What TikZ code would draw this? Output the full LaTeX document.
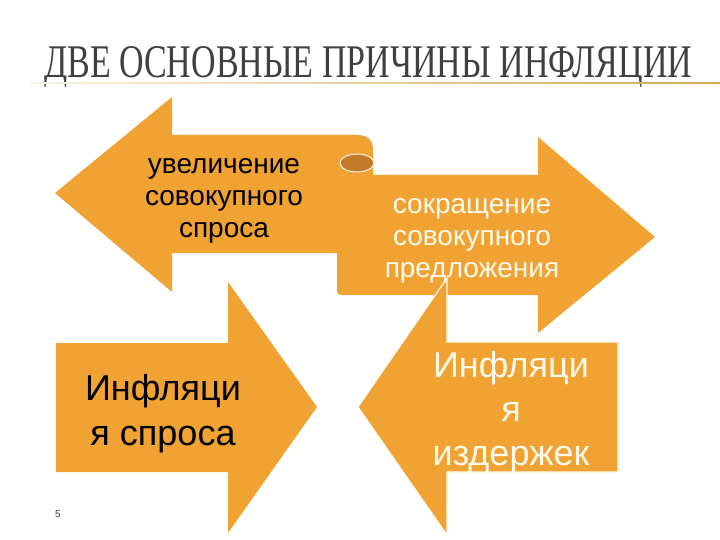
\documentclass[tikz,border=0pt]{standalone}
\usepackage{fontspec}
\setmainfont{Liberation Sans}
\newfontfamily\titlefont{Liberation Serif}
\usepackage{graphicx}
\definecolor{arroworange}{RGB}{240,162,50}
\definecolor{curlbrown}{RGB}{196,122,40}
\definecolor{titlegray}{RGB}{64,64,64}
\definecolor{linegold}{RGB}{214,170,80}
\definecolor{creamwhite}{RGB}{255,250,236}

\begin{document}
\begin{tikzpicture}[
    x=1pt, y=-1pt,
    arrowshape/.style={fill=arroworange, draw=none},
    midtext/.style={align=center, font=\fontsize{28}{32}\selectfont, inner sep=0pt},
    bigtext/.style={align=center, font=\fontsize{36}{45}\selectfont, inner sep=0pt}
]
\useasboundingbox (0,0) rectangle (720,540);

% title and rule
\node[anchor=base west, inner sep=0pt, text=titlegray] (title) at (44,78)
    {\resizebox{648pt}{31pt}{\titlefont ДВЕ ОСНОВНЫЕ ПРИЧИНЫ ИНФЛЯЦИИ}};
\shade[left color=linegold!15, right color=linegold] (30,82.3) rectangle (720,83.7);

% upper left arrow with the curl
\path[arrowshape] (55,193) -- (172,97) -- (172,135) -- (356,135)
    .. controls (368,135) and (373,140) .. (373,150) -- (373,253)
    -- (172,253) -- (172,292) -- cycle;
% upper right arrow with the strip
\path[arrowshape] (337,172) .. controls (337,160) and (345,154) .. (357,154)
    -- (373,154) -- (373,175) -- (538,175) -- (538,137) -- (655,237)
    -- (538,333) -- (538,295) -- (345,295) .. controls (337,295) .. (337,287) -- cycle;
\draw[fill=curlbrown, draw=creamwhite, line width=1pt] (357,163) ellipse [x radius=17, y radius=9];

% lower arrows
\path[arrowshape] (56,343) -- (228,343) -- (228,282) -- (317,407)
    -- (228,533) -- (228,472) -- (56,472) -- cycle;
\path[arrowshape, draw=creamwhite, line width=1.2pt] (618,342) -- (447,342) -- (447,278)
    -- (358,407) -- (447,535) -- (447,472) -- (618,472) -- cycle;

% texts (base = last line)
\node[midtext, anchor=base] (demand) at (224,237) {увеличение\\совокупного\\спроса};
\node[midtext, anchor=base, text=creamwhite] (supply) at (472,277) {сокращение\\совокупного\\предложения};
\node[bigtext, anchor=base] (demandinf) at (163,445) {Инфляци\\я спроса};
\node[bigtext, anchor=base, text=creamwhite, font=\fontsize{36}{44}\selectfont] (costinf) at (511,465) {Инфляци\\я\\издержек};

\node[anchor=base, font=\fontsize{10}{12}\selectfont, text=titlegray] (pagenum) at (58,517) {5};
\end{tikzpicture}
\end{document}
